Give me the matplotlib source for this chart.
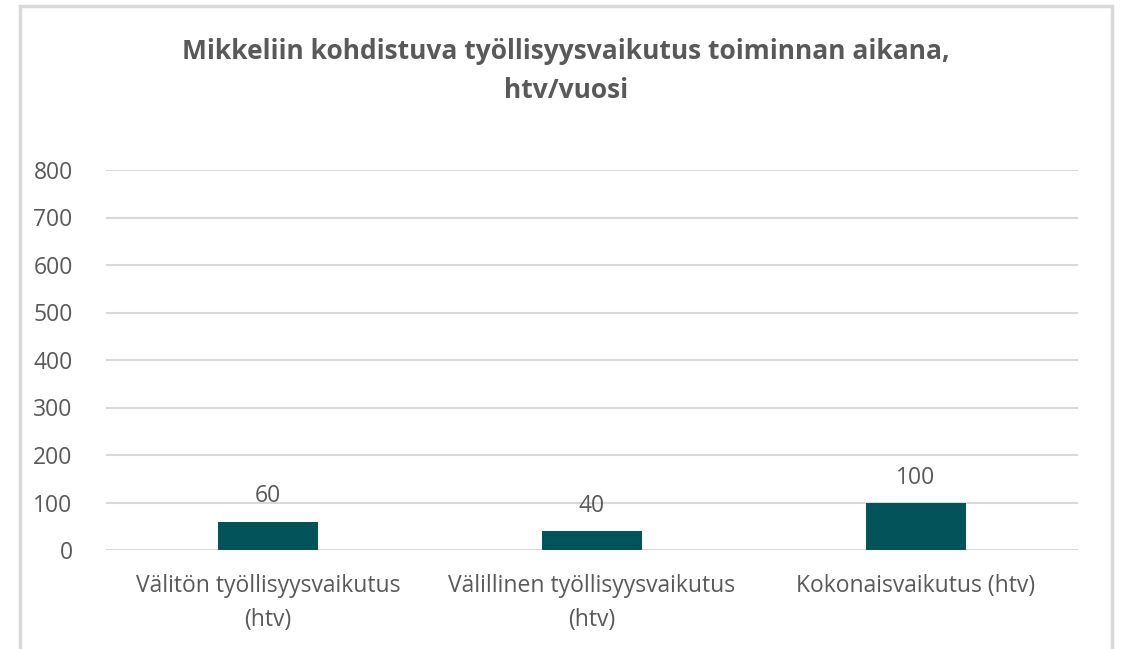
import matplotlib.pyplot as plt
from matplotlib.patches import Rectangle

## chart data
categories = ['Välitön työllisyysvaikutus\n(htv)', 'Välillinen työllisyysvaikutus\n(htv)', 'Kokonaisvaikutus (htv)']
values = [60, 40, 100]
yticks = [0, 100, 200, 300, 400, 500, 600, 700, 800]
title = 'Mikkeliin kohdistuva työllisyysvaikutus toiminnan aikana,\nhtv/vuosi'

textColor = '#595959'
barColor = '#02545A'
gridColor = '#D9D9D9'

plt.rcParams['font.family'] = ['Open Sans', 'DejaVu Sans']

fig = plt.figure(figsize=(11.22, 6.49), dpi=100)
ax = fig.add_axes([106/1122, 1-550/649, (1078-106)/1122, (550-170)/649])

## outer chart frame
fig.patches.append(Rectangle((20/1122, -0.05), (1112-20)/1122, 1.05-6/649, transform=fig.transFigure,
                             fill=False, edgecolor=gridColor, linewidth=2.5))

xpos = range(len(categories))
ax.bar(xpos, values, width=0.31, color=barColor, zorder=3)
for x, v in zip(xpos, values):
    ax.annotate(str(v), (x, v), xytext=(0, 18), textcoords='offset points',
                ha='center', va='center', fontsize=16.5, color=textColor)

ax.set_xlim(-0.5, 2.5)
ax.set_ylim(0, 800)
ax.set_yticks(yticks)
ax.set_xticks(list(xpos))
ax.set_xticklabels(categories, fontsize=16.5, color=textColor, linespacing=1.55)
ax.tick_params(axis='y', labelsize=16.5, labelcolor=textColor, length=0, pad=24)
ax.tick_params(axis='x', length=0, pad=17)
ax.grid(axis='y', color=gridColor, linewidth=1.5, zorder=0)
for s in ax.spines.values():
    s.set_visible(False)

fig.text(566/1122, 1-71/649, title, ha='center', va='center', fontsize=19, fontweight='bold',
         color=textColor, linespacing=1.6)

fig.savefig('out.png', dpi=100)
